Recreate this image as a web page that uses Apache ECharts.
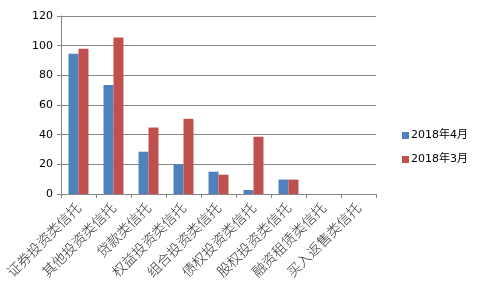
<!DOCTYPE html>
<html><head><meta charset="utf-8">
<script src="https://cdn.jsdelivr.net/npm/echarts@6/dist/echarts.min.js"></script>
<style>html,body{margin:0;padding:0;background:#fff}#c{width:484px;height:292px}</style>
</head><body><div id="c"></div>
<script>
const categories = ['证券投资类信托','其他投资类信托','贷款类信托','权益投资类信托','组合投资类信托','债权投资类信托','股权投资类信托','融资租赁类信托','买入返售类信托'];
const seriesApr = [94.5, 73.5, 28.5, 20, 15, 2.7, 9.7, 0, 0];
const seriesMar = [98, 105.5, 44.8, 50.7, 13, 38.6, 9.7, 0, 0];
const yTicks = [0, 20, 40, 60, 80, 100, 120];
const names = ['2018年4月', '2018年3月'];

const chart = echarts.init(document.getElementById('c'));
chart.setOption({
  animation: false,
  backgroundColor: '#fff',
  grid: {left: 61, right: 108, top: 16, bottom: 98},
  legend: {
    orient: 'vertical', left: 397, top: 125, itemWidth: 7, itemHeight: 7, itemGap: 13,
    icon: 'rect',
    textStyle: {fontSize: 11, color: '#000', fontFamily: 'DejaVu Sans, Noto Sans CJK SC', padding: [0,0,0,-3]},
    data: names
  },
  xAxis: {
    type: 'category', data: categories,
    axisLine: {lineStyle: {color: '#868686', width: 1}},
    axisTick: {show: true, length: 4, lineStyle: {color: '#868686'}},
    axisLabel: {rotate: 45, interval: 0, fontSize: 14, color: '#333', margin: 11, fontFamily: 'Noto Sans CJK SC', fontWeight: 300}
  },
  yAxis: {
    type: 'value', min: yTicks[0], max: yTicks[yTicks.length-1], interval: 20,
    axisLine: {show: true, lineStyle: {color: '#868686', width: 1}},
    axisTick: {show: true, length: 4, lineStyle: {color: '#868686'}},
    splitLine: {lineStyle: {color: '#868686', width: 1}},
    axisLabel: {fontSize: 11, color: '#000', margin: 8, fontFamily: 'DejaVu Sans'}
  },
  series: [
    {name: names[0], type: 'bar', data: seriesApr, barGap: '0%', barCategoryGap: '43%', itemStyle: {color: '#4F81BD'}},
    {name: names[1], type: 'bar', data: seriesMar, itemStyle: {color: '#C0504D'}}
  ]
});
</script></body></html>
